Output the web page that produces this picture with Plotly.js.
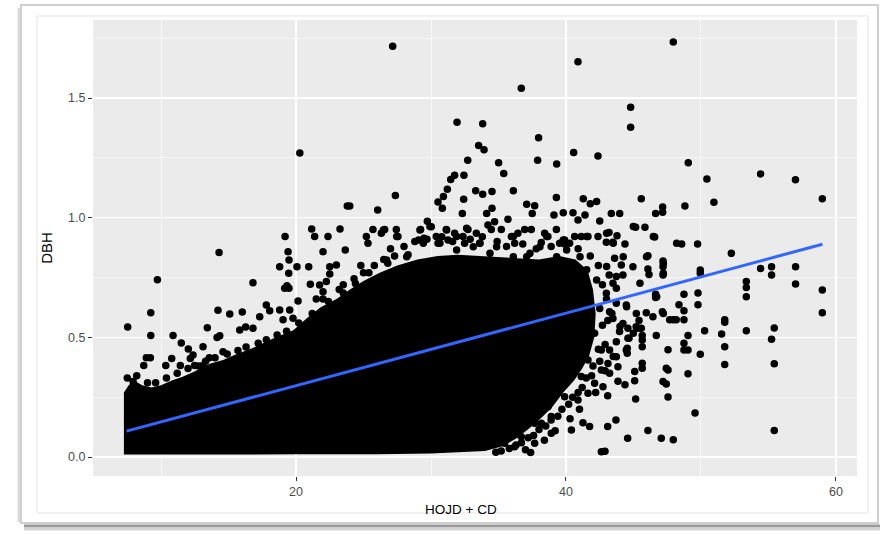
<!DOCTYPE html>
<html>
<head>
<meta charset="utf-8">
<script src="https://cdn.plot.ly/plotly-3.0.1.min.js"></script>
<style>
  html, body { margin: 0; padding: 0; background: #ffffff; }
  #chart { width: 889px; height: 534px; }
</style>
</head>
<body>
<div id="chart"></div>
<script>
// ---- Data ----
// Outline of the dense, fully overlapping point cloud (HOJD + CD, DBH)
var blobX = [7.25, 7.25, 7.6, 8.0, 8.6, 9.3, 10.0, 10.8, 11.6, 12.4, 13.6, 14.6, 15.4, 16.8, 18.3, 19.8, 20.8, 21.8, 23.0, 24.0, 25.0, 26.2, 27.5, 29.0, 30.5, 32.0, 33.6, 35.0, 36.6, 38.0, 39.5, 40.7, 41.6, 42.0, 42.2, 42.1, 41.7, 41.2, 40.6, 39.8, 39.0, 38.2, 37.4, 36.4, 35.3, 34.0, 30.0, 26.0, 20.0, 14.0, 7.25];
var blobY = [0.01, 0.27, 0.30, 0.32, 0.30, 0.29, 0.30, 0.32, 0.335, 0.355, 0.39, 0.405, 0.425, 0.455, 0.495, 0.53, 0.58, 0.625, 0.66, 0.70, 0.735, 0.77, 0.80, 0.825, 0.84, 0.845, 0.84, 0.835, 0.83, 0.825, 0.84, 0.825, 0.78, 0.70, 0.60, 0.50, 0.42, 0.37, 0.32, 0.27, 0.21, 0.165, 0.125, 0.08, 0.045, 0.025, 0.015, 0.012, 0.011, 0.01, 0.01];

// Individually visible points
var pointsX = [
  // upper area
  20.28, 23.8, 21.16, 21.38, 22.37, 23.26, 19.19, 27.16, 40.89, 36.69, 31.93, 33.83, 37.97, 33.53, 33.93, 40.57, 42.37, 32.72, 37.9, 35.01,
  39.31, 35.39, 32.44, 31.75, 31.46, 31.21, 33.31, 33.83, 34.52, 36.1, 27.36, 23.98, 26.05, 30.52, 30.92, 30.84, 32.42, 32.32, 34.52, 34.12,
  37.09, 37.68, 39.29, 37.5, 39.11, 39.8, 41.28, 41.8, 42.27, 40.52, 40.89, 41.41, 42.5, 35.7, 29.73, 39.29, 47.95, 44.79, 44.79, 49.06,
  50.44, 54.42, 57.0, 58.99, 50.96, 48.81, 45.58, 47.16, 47.16, 46.64, 43.36, 43.98, 45.16, 45.85, 43.19, 43.78, 46.57, 44.37, 42.99, 43.48,
  48.57, 49.75, 23.65,
  // right area
  46.07, 47.19, 47.19, 47.19, 46.07, 46.15, 44.96, 52.25, 49.95, 49.95, 54.42, 55.23, 55.23, 57.01, 57.01, 58.99, 58.99, 53.36, 53.36, 53.36,
  48.74, 49.78, 49.78, 46.64, 46.64, 48.37, 48.74, 47.68, 48.17, 48.74, 47.14, 46.44, 45.95, 45.21, 51.76, 51.76, 50.27, 51.53, 53.36, 55.43,
  55.23, 51.76, 49.95, 51.76, 55.43, 49.04, 48.74, 48.74, 49.04, 46.69, 47.56, 47.43, 47.56, 49.04, 47.19, 47.43, 47.56, 45.16, 45.65, 45.65,
  45.09, 45.09, 44.37, 43.85, 43.09, 49.56, 43.7, 43.09, 46.07, 44.57, 47.06, 47.95, 55.43, 42.89, 45.65, 45.65, 45.65, 44.67, 44.54, 44.54,
  45.2, 45.58, 43.6, 44.1, 44.22, 43.73, 43.48, 43.73, 42.99, 43.73, 44.47, 43.23, 43.48, 44.22, 43.97, 44.59, 43.73, 44.59, 44.47, 43.23,
  43.73, 43.11, 43.85, 43.23, 42.74, 45.33, 45.41,
  // left area
  9.73, 9.24, 7.53, 9.24, 8.91, 9.21, 8.72, 10.89, 11.5, 12.02, 13.11, 13.43, 14.22, 15.09, 16.02, 14.3, 16.81, 10.79, 10.35, 11.43,
  12.37, 12.17, 12.49, 13.11, 13.58, 14.15, 14.35, 14.59, 15.83, 16.27, 16.81, 17.31, 17.8, 18.05, 18.79, 19.53, 19.04, 19.78, 20.15, 19.16,
  19.48, 19.33, 18.79, 19.46, 19.48, 20.07, 20.94, 21.06, 22.0, 22.5, 22.99, 22.5, 21.75, 22.0, 22.25, 19.41, 7.93,
  // band above the dense cloud
  25.70, 26.32, 26.57, 27.43, 27.55, 25.21, 25.33, 29.23, 30.02, 29.48, 29.08, 30.39, 30.52, 31.13, 31.26, 31.75, 32.37, 32.49, 32.74, 33.36,
  33.6, 34.22, 34.71, 34.47, 35.21, 35.95, 36.2, 36.44, 36.94, 37.43, 38.17, 38.42, 38.66, 39.53, 39.9, 40.27, 40.64, 41.13, 41.63, 42.37,
  26.47, 27.46, 29.18, 29.92, 31.16, 32.64, 31.9, 33.63, 34.86, 36.1, 37.33, 38.57, 39.8, 41.53, 43.01, 43.5, 44.24, 44.99, 45.97, 46.47,
  47.21, 47.21, 45.48, 47.21, 46.72, 48.2, 47.95, 44.49, 44.99, 44.0, 43.01, 42.27, 41.53, 41.04, 40.05, 39.31, 38.07, 37.09, 36.1, 34.37,
  33.13, 31.9, 30.66, 29.43, 28.2, 26.71,
  27.0, 28.0, 28.8, 29.7, 30.8, 31.6, 32.9, 33.8, 34.9, 35.6, 36.8, 37.8, 38.9, 39.9, 40.9, 41.8, 42.4, 43.2,
  23.5, 24.3, 25.0, 25.8, 26.5, 27.3, 24.8, 23.2, 22.0, 21.5,
  // lower right of the cloud
  40.4, 41.26, 41.75, 37.38, 38.91, 38.91, 38.17, 37.68, 38.67, 39.9, 40.89, 41.63, 42.12, 42.62, 41.13, 40.15, 41.63, 42.62, 42.12, 41.13,
  42.62, 36.2, 35.45, 36.69, 36.94, 37.68,
  42.5, 42.7, 42.4, 42.0, 41.5, 40.9, 40.2, 39.4, 38.5, 37.6, 36.7, 35.8, 34.8, 43.4, 43.5, 42.9, 42.2, 41.0, 40.3, 39.2,
  38.4, 37.0,
  // ragged edge of the dense cloud
  7.5, 8.2, 9.0, 9.6, 10.4, 11.2, 12.0, 12.8, 13.3, 14.0, 14.9, 15.7, 16.3, 17.2, 17.8, 18.6, 19.3, 20.2, 21.2, 22.4,
  23.5, 24.4, 25.4, 26.8, 28.3,
  42.7, 43.0, 43.1, 42.9, 42.5, 41.9, 41.2, 40.5, 39.7, 38.9, 38.0, 37.2, 36.3, 35.2
];
var pointsY = [
  1.270, 1.049, 0.953, 0.921, 0.921, 0.953, 0.921, 1.716, 1.652, 1.541, 1.399, 1.392, 1.334, 1.302, 1.284, 1.272, 1.258, 1.240, 1.240, 1.230,
  1.224, 1.185, 1.177, 1.177, 1.160, 1.119, 1.113, 1.098, 1.109, 1.112, 1.093, 1.049, 1.032, 1.066, 1.088, 1.039, 1.077, 1.017, 1.039, 1.017,
  1.056, 1.050, 1.084, 1.017, 1.011, 1.021, 1.079, 1.058, 1.068, 1.021, 0.990, 1.011, 0.986, 0.993, 0.985, 0.951, 1.734, 1.461, 1.378, 1.230,
  1.162, 1.183, 1.159, 1.079, 1.064, 1.049, 1.079, 1.045, 1.023, 1.017, 1.017, 1.017, 0.960, 0.960, 0.938, 0.925, 0.919, 0.890, 0.897, 0.897,
  0.890, 0.890, 0.865,
  0.841, 0.819, 0.795, 0.760, 0.786, 0.763, 0.795, 0.851, 0.781, 0.768, 0.788, 0.795, 0.760, 0.795, 0.723, 0.698, 0.603, 0.733, 0.708, 0.670,
  0.680, 0.685, 0.636, 0.680, 0.666, 0.636, 0.611, 0.573, 0.573, 0.573, 0.607, 0.586, 0.603, 0.600, 0.573, 0.563, 0.528, 0.514, 0.528, 0.539,
  0.492, 0.461, 0.429, 0.387, 0.390, 0.508, 0.475, 0.447, 0.447, 0.508, 0.448, 0.371, 0.364, 0.348, 0.315, 0.305, 0.251, 0.242, 0.392, 0.371,
  0.357, 0.319, 0.302, 0.316, 0.256, 0.184, 0.155, 0.127, 0.111, 0.078, 0.078, 0.072, 0.111, 0.024, 0.508, 0.489, 0.461, 0.496, 0.454, 0.433,
  0.544, 0.538, 0.830, 0.802, 0.761, 0.754, 0.726, 0.705, 0.684, 0.642, 0.635, 0.607, 0.579, 0.558, 0.524, 0.538, 0.482, 0.496, 0.447, 0.447,
  0.419, 0.391, 0.377, 0.350, 0.294, 0.538, 0.570,
  0.741, 0.603, 0.543, 0.508, 0.415, 0.415, 0.382, 0.508, 0.476, 0.451, 0.461, 0.540, 0.613, 0.598, 0.606, 0.854, 0.728, 0.412, 0.382, 0.382,
  0.426, 0.412, 0.382, 0.382, 0.415, 0.499, 0.507, 0.440, 0.531, 0.543, 0.538, 0.586, 0.635, 0.611, 0.614, 0.614, 0.573, 0.580, 0.652, 0.705,
  0.705, 0.716, 0.795, 0.768, 0.823, 0.795, 0.795, 0.722, 0.858, 0.795, 0.802, 0.765, 0.719, 0.691, 0.733, 0.858, 0.315,
  0.951, 0.935, 0.951, 0.951, 0.921, 0.921, 0.893, 0.951, 0.962, 0.914, 0.907, 0.921, 0.893, 0.951, 0.907, 0.935, 0.921, 0.893, 0.951, 0.935,
  0.893, 0.969, 0.983, 0.951, 0.951, 0.921, 0.893, 0.935, 0.951, 0.951, 0.896, 0.935, 0.921, 0.893, 0.907, 0.893, 0.921, 0.921, 0.921, 0.921,
  0.949, 0.921, 0.949, 0.963, 0.949, 0.956, 0.921, 0.893, 0.879, 0.921, 0.851, 0.921, 0.907, 0.921, 0.935, 0.893, 0.837, 0.963, 0.837, 0.921,
  0.809, 0.768, 0.726, 0.600, 0.670, 0.893, 0.573, 0.628, 0.517, 0.545, 0.796, 0.740, 0.782, 0.837, 0.865, 0.837, 0.879, 0.837, 0.837, 0.851,
  0.879, 0.865, 0.893, 0.893, 0.837, 0.823,
  0.87, 0.88, 0.90, 0.91, 0.92, 0.90, 0.91, 0.92, 0.90, 0.88, 0.89, 0.87, 0.88, 0.89, 0.87, 0.84, 0.80, 0.76,
  0.72, 0.745, 0.77, 0.80, 0.825, 0.84, 0.80, 0.70, 0.66, 0.66,
  0.113, 0.143, 0.127, 0.019, 0.169, 0.099, 0.141, 0.057, 0.210, 0.252, 0.238, 0.266, 0.308, 0.364, 0.336, 0.377, 0.405, 0.447, 0.517, 0.489,
  0.022, 0.043, 0.057, 0.085, 0.127, 0.141,
  0.62, 0.55, 0.45, 0.38, 0.33, 0.27, 0.22, 0.17, 0.13, 0.09, 0.06, 0.035, 0.02, 0.60, 0.42, 0.36, 0.27, 0.20, 0.16, 0.11,
  0.07, 0.03,
  0.33, 0.34, 0.31, 0.31, 0.33, 0.35, 0.37, 0.38, 0.40, 0.415, 0.43, 0.445, 0.46, 0.475, 0.49, 0.51, 0.525, 0.56, 0.60, 0.65,
  0.685, 0.725, 0.77, 0.81, 0.845,
  0.72, 0.66, 0.57, 0.47, 0.40, 0.34, 0.29, 0.25, 0.20, 0.155, 0.115, 0.08, 0.05, 0.025
];

// Linear fit line (end points)
var fitX = [7.45, 59.0];
var fitY = [0.108, 0.889];

// Axis ticks
var xTicks = [20, 40, 60];
var xTickText = ["20", "40", "60"];
var xMinor = [10, 30, 50];
var yTicks = [0, 0.5, 1.0, 1.5];
var yTickText = ["0.0", "0.5", "1.0", "1.5"];
var yMinor = [0.25, 0.75, 1.25, 1.75];

// ---- Chart ----
var FONT = "Liberation Sans, Arial, Helvetica, sans-serif";

var traces = [
  {
    type: "scatter", mode: "lines", x: blobX, y: blobY,
    fill: "toself", fillcolor: "#000000",
    line: { color: "#000000", width: 0 },
    hoverinfo: "skip", showlegend: false
  },
  {
    type: "scatter", mode: "markers", x: pointsX, y: pointsY,
    marker: { color: "#000000", size: 7.5, line: { width: 0 } },
    showlegend: false
  },
  {
    type: "scatter", mode: "lines", x: fitX, y: fitY,
    line: { color: "#3366FF", width: 3 },
    showlegend: false
  }
];

function px2x(px) { return (px - 93) / 764; }
function py2y(py) { return (476 - py) / 456; }

var layout = {
  width: 889, height: 534,
  margin: { l: 93, r: 32, t: 20, b: 58, pad: 0 },
  paper_bgcolor: "#ffffff",
  plot_bgcolor: "#EBEBEB",
  showlegend: false,
  font: { family: FONT, color: "#4D4D4D" },
  xaxis: {
    range: [4.96, 61.56],
    tickmode: "array", tickvals: xTicks, ticktext: xTickText,
    showgrid: true, gridcolor: "#ffffff", gridwidth: 1.3,
    minor: { tickmode: "array", tickvals: xMinor, showgrid: true, gridcolor: "#ffffff", gridwidth: 0.6, ticks: "" },
    zeroline: false, showline: false,
    ticks: "outside", ticklen: 4, tickwidth: 1, tickcolor: "#333333",
    tickfont: { family: FONT, size: 12.5, color: "#4D4D4D" }
  },
  yaxis: {
    range: [-0.0794, 1.826],
    tickmode: "array", tickvals: yTicks, ticktext: yTickText,
    showgrid: true, gridcolor: "#ffffff", gridwidth: 1.3,
    minor: { tickmode: "array", tickvals: yMinor, showgrid: true, gridcolor: "#ffffff", gridwidth: 0.6, ticks: "" },
    zeroline: false, showline: false,
    ticks: "outside", ticklen: 4, tickwidth: 1, tickcolor: "#333333",
    tickfont: { family: FONT, size: 12.5, color: "#4D4D4D" },
    title: { text: "DBH", font: { family: FONT, size: 15, color: "#000000" }, standoff: 11 }
  },
  annotations: [
    { text: "HOJD + CD", xref: "paper", yref: "paper", x: px2x(461), y: py2y(510),
      xanchor: "center", yanchor: "middle", showarrow: false,
      font: { family: FONT, size: 13.5, color: "#000000" } }
  ],
  shapes: [
    // card shadow / border
    { type: "line", xref: "paper", yref: "paper", x0: px2x(24), x1: px2x(880), y0: py2y(526), y1: py2y(526), line: { color: "#9a9a9a", width: 3 } },
    { type: "line", xref: "paper", yref: "paper", x0: px2x(24), x1: px2x(880), y0: py2y(529), y1: py2y(529), line: { color: "#d2d2d2", width: 3 } },
    { type: "line", xref: "paper", yref: "paper", x0: px2x(19), x1: px2x(19), y0: py2y(522), y1: py2y(8), line: { color: "#dadada", width: 3 } },
    { type: "rect", xref: "paper", yref: "paper", x0: px2x(21), x1: px2x(878), y0: py2y(523), y1: py2y(5), line: { color: "#cfcfcf", width: 2 } },
    { type: "rect", xref: "paper", yref: "paper", x0: px2x(37), x1: px2x(868), y0: py2y(513), y1: py2y(16), line: { color: "#e4e4e4", width: 1 } }
  ]
};

Plotly.newPlot("chart", traces, layout, { displayModeBar: false, staticPlot: true });
</script>
</body>
</html>
